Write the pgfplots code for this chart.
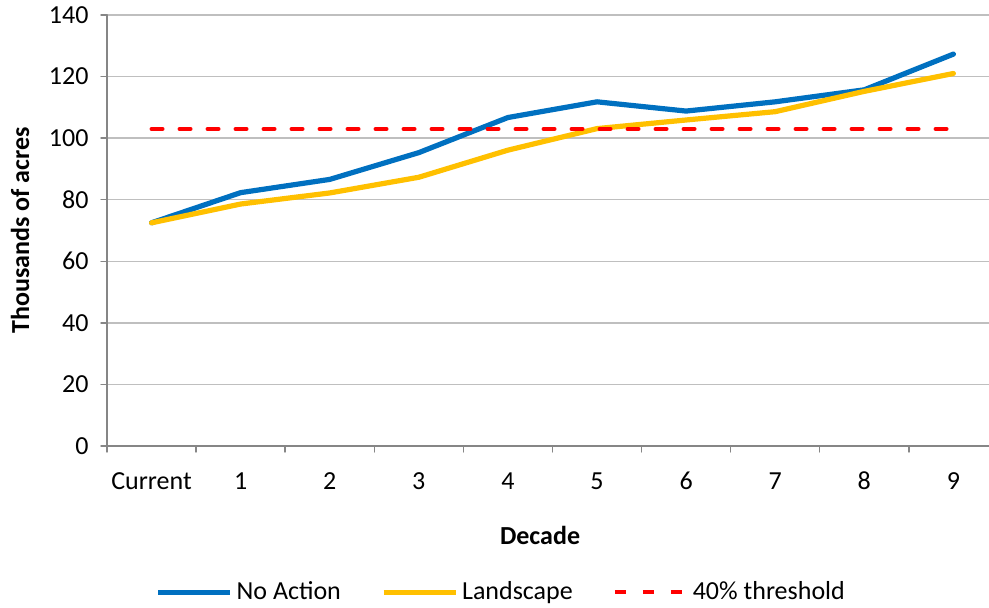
\documentclass[border=0pt]{standalone}
\usepackage{pgfplots}
\usepackage{pgfplotstable}
\pgfplotsset{compat=1.18}
\usepackage{fontspec}
\setmainfont{Carlito}

\definecolor{naBlue}{HTML}{0070C0}
\definecolor{lsYellow}{HTML}{FFC000}
\definecolor{gridGray}{HTML}{BFBFBF}
\definecolor{axGray}{HTML}{868686}

% decade index, thousands of acres
\pgfplotstableread{
x noaction landscape threshold
0 72.5  72.5  103
1 82.3  78.6  103
2 86.6  82.2  103
3 95.3  87.3  103
4 106.7 96.1  103
5 111.8 103.1 103
6 108.8 105.9 103
7 111.8 108.6 103
8 115.7 115.2 103
9 127.3 121.0 103
}\decades

\begin{document}
\begin{tikzpicture}
\begin{axis}[
    at={(0,0)}, anchor=south west,
    scale only axis,
    width=441pt, height=215.5pt,
    xmin=-0.5, xmax=9.4,
    ymin=0, ymax=140,
    ytick={0,20,...,140},
    xtick={-0.5,0.5,...,8.5},
    xticklabels={},
    extra x ticks={0,...,9},
    extra x tick labels={Current,1,2,3,4,5,6,7,8,9},
    extra x tick style={grid=none, major tick length=0pt},
    axis x line*=bottom, axis y line*=left,
    axis line style={axGray, line width=0.9pt, -},
    tick align=outside,
    major tick length=3pt,
    tick style={axGray, line width=0.7pt},
    ymajorgrids,
    grid style={gridGray, line width=0.7pt},
    /pgf/number format/assume math mode=true,
    tick label style={font=\fontsize{13}{15.6}\selectfont, black},
    xticklabel style={anchor=base, yshift=-21.5pt},
    yticklabel style={anchor=east, xshift=-2.7pt},
    label style={font=\fontsize{13}{15.6}\selectfont\bfseries},
    xlabel={Decade},
    ylabel={Thousands of acres},
    xlabel style={at={(axis description cs:0.491,-0.2065)}, anchor=center},
    ylabel style={at={(axis description cs:-0.0986,0.5)}, anchor=center},
    legend columns=3,
    legend style={draw=none, fill=none,
        at={(0.448,-0.339)}, anchor=center,
        font=\fontsize{13}{15.6}\selectfont,
        /tikz/every even column/.append style={column sep=18pt}},
    legend image code/.code={\draw[#1] (0pt,0pt) -- (36pt,0pt);},
    line cap=round, line join=round,
]
\addplot[naBlue, line width=2.6pt] table[x=x, y=noaction] {\decades};
\addlegendentry{No Action}
\addplot[lsYellow, line width=2.6pt] table[x=x, y=landscape] {\decades};
\addlegendentry{Landscape}
\addplot[red, line width=2pt, dash pattern=on 5.5pt off 8.5pt] table[x=x, y=threshold] {\decades};
\addlegendentry{40\% threshold}
\end{axis}
\pgfresetboundingbox
\useasboundingbox (-53.5pt,-80.5pt) rectangle (441pt,223pt);
\end{tikzpicture}
\end{document}
